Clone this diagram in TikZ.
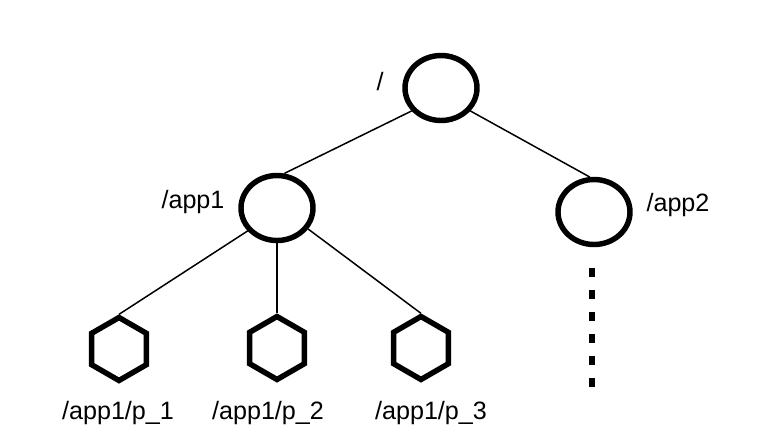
\documentclass[tikz,border=0pt]{standalone}
\usepackage{fontspec}
\setmainfont{Liberation Sans}
\usetikzlibrary{shapes.geometric, calc, positioning}
\tikzset{
    znode/.style={ellipse, draw, line width=3.1pt, fill=white, inner sep=0pt, minimum width=1.44cm, minimum height=1.30cm},
    zleaf/.style={regular polygon, regular polygon sides=6, shape border rotate=30, draw, line width=3.1pt, fill=white, inner sep=0pt, minimum size=1.26cm},
    zlabel/.style={font=\fontsize{14.3}{17}\selectfont, inner sep=0pt},
    treeLink/.style={line width=0.85pt},
    moreLink/.style={line width=3.3pt, dash pattern=on 0.18cm off 0.26cm},
}
\newcommand{\treeEdge}[2]{
    \draw[treeLink] (#1) -- (#2);
}

\begin{document}
\begin{tikzpicture}
        \useasboundingbox (0,0) rectangle (15.52,-8.94);

        \node[znode] (root) at (8.82, -1.76) {};
        \node[znode] (app1) at (5.54, -4.16) {};
        \node[znode] (app2) at (11.88, -4.24) {};
        \node[zleaf] (p1) at (2.38, -6.98) {};
        \node[zleaf] (p2) at (5.54, -6.96) {};
        \node[zleaf] (p3) at (8.42, -6.96) {};

        \node[zlabel] (lroot) at (7.60, -1.64) {/};
        \node[zlabel] (lapp1) at (3.86, -4.04) {/app1};
        \node[zlabel] (lapp2) at (13.56, -4.10) {/app2};
        \node[zlabel] (lp1) at (2.36, -8.26) {/app1/p\_1};
        \node[zlabel] (lp2) at (5.36, -8.26) {/app1/p\_2};
        \node[zlabel] (lp3) at (8.62, -8.26) {/app1/p\_3};

        \treeEdge{root.218}{app1.78}
        \treeEdge{root.322}{app2.97}
        \treeEdge{app1.218}{p1.north}
        \treeEdge{app1.south}{p2.north}
        \treeEdge{app1.326}{p3.north}

        \coordinate (dotTop) at (11.84, -5.36);
        \coordinate (dotBot) at (11.84, -7.74);
        \draw[moreLink] (dotTop) -- (dotBot);

    \end{tikzpicture}
\end{document}
